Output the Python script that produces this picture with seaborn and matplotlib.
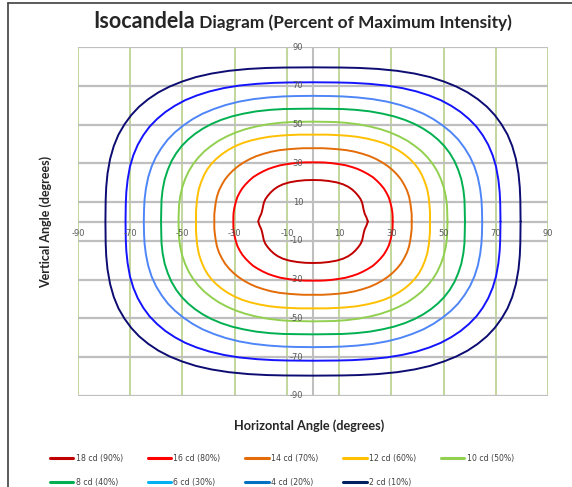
import numpy as np
import pandas as pd
import matplotlib
matplotlib.use("Agg")
import matplotlib.pyplot as plt
import seaborn as sns
from matplotlib.lines import Line2D

# ---------------- data ----------------
labels = ["18 cd (90%)", "16 cd (80%)", "14 cd (70%)", "12 cd (60%)", "10 cd (50%)",
          "8 cd (40%)", "6 cd (30%)", "4 cd (20%)", "2 cd (10%)"]
line_colors = ["#C00000", "#FF0000", "#E36C09", "#FFC000", "#92D050",
               "#00B050", "#4F86F7", "#1414FF", "#0C0C72"]
legend_colors = ["#C00000", "#FF0000", "#E36C09", "#FFC000", "#92D050",
                 "#00B050", "#00B0F0", "#0070C0", "#002060"]

# first-quadrant points (degrees), from the horizontal axis up to the vertical axis
q18_x = [21.0, 20.5, 19.8, 19.4, 19.1, 18.8, 18.2, 17.3, 16.2, 15.0, 13.5, 11.5, 9.0, 6.0, 3.0, 0.0]
q18_y = [0.0, 2.0, 4.0, 6.0, 8.0, 9.8, 11.6, 13.3, 15.0, 16.5, 17.9, 19.2, 20.2, 20.9, 21.3, 21.4]

q16_x = [30.5, 30.5, 30.4, 30.1, 29.6, 29.0, 28.1, 27.1, 25.8, 24.4, 22.9,
         21.1, 19.2, 17.1, 14.9, 12.5, 9.9, 7.1, 4.6, 2.6, 0.0]
q16_y = [0.0, 2.6, 4.6, 7.1, 9.9, 12.5, 14.9, 17.1, 19.2, 21.1, 22.9,
         24.4, 25.8, 27.1, 28.1, 29.0, 29.6, 30.1, 30.4, 30.5, 30.5]

q14_x = [37.8, 37.8, 37.6, 37.3, 36.8, 36.0, 34.9, 33.7, 32.2, 30.5, 28.6,
         26.5, 24.2, 21.7, 19.0, 16.0, 12.8, 9.3, 6.2, 3.6, 0.0]
q14_y = [0.0, 3.6, 6.2, 9.3, 12.8, 16.0, 19.0, 21.7, 24.2, 26.5, 28.6,
         30.5, 32.2, 33.7, 34.9, 36.0, 36.8, 37.3, 37.6, 37.8, 37.8]

q12_x = [44.8, 44.8, 44.6, 44.3, 43.7, 42.8, 41.7, 40.4, 38.8, 36.9, 34.8,
         32.5, 29.9, 27.1, 24.0, 20.5, 16.8, 12.5, 8.7, 5.2, 0.0]
q12_y = [0.0, 5.2, 8.7, 12.5, 16.8, 20.5, 24.0, 27.1, 29.9, 32.5, 34.8,
         36.9, 38.8, 40.4, 41.7, 42.8, 43.7, 44.3, 44.6, 44.8, 44.8]

q10_x = [51.5, 51.4, 51.3, 50.9, 50.1, 49.0, 47.6, 45.9, 43.9, 41.6, 39.0,
         36.2, 33.0, 29.6, 25.9, 21.8, 17.5, 12.7, 8.5, 4.9, 0.0]
q10_y = [0.0, 4.9, 8.5, 12.7, 17.5, 21.8, 25.9, 29.6, 33.0, 36.2, 39.0,
         41.6, 43.9, 45.9, 47.6, 49.0, 50.1, 50.9, 51.3, 51.4, 51.5]

q8_x = [58.2, 58.1, 58.0, 57.6, 56.8, 55.6, 54.2, 52.4, 50.3, 47.9, 45.2,
        42.2, 38.9, 35.2, 31.1, 26.7, 21.8, 16.3, 11.3, 6.8, 0.0]
q8_y = [0.0, 6.8, 11.3, 16.3, 21.8, 26.7, 31.1, 35.2, 38.9, 42.2, 45.2,
        47.9, 50.3, 52.4, 54.2, 55.6, 56.8, 57.6, 58.0, 58.1, 58.2]

q6_x = [64.8, 64.7, 64.5, 64.0, 63.1, 61.8, 60.1, 58.0, 55.6, 52.8, 49.6,
        46.1, 42.3, 38.0, 33.4, 28.4, 22.9, 16.9, 11.4, 6.7, 0.0]
q6_y = [0.0, 6.7, 11.4, 16.9, 22.9, 28.4, 33.4, 38.0, 42.3, 46.1, 49.6,
        52.8, 55.6, 58.0, 60.1, 61.8, 63.1, 64.0, 64.5, 64.7, 64.8]

q4_x = [71.8, 71.7, 71.5, 71.0, 70.1, 68.8, 67.1, 65.0, 62.6, 59.7, 56.5,
        52.9, 48.9, 44.5, 39.6, 34.2, 28.3, 21.5, 15.1, 9.4, 0.0]
q4_y = [0.0, 9.4, 15.1, 21.5, 28.3, 34.2, 39.6, 44.5, 48.9, 52.9, 56.5,
        59.7, 62.6, 65.0, 67.1, 68.8, 70.1, 71.0, 71.5, 71.7, 71.8]

q2_x = [79.5, 79.4, 79.2, 78.7, 77.7, 76.3, 74.5, 72.2, 69.6, 66.6, 63.1,
        59.2, 54.9, 50.1, 44.8, 38.9, 32.3, 24.7, 17.6, 11.1, 0.0]
q2_y = [0.0, 11.1, 17.6, 24.7, 32.3, 38.9, 44.8, 50.1, 54.9, 59.2, 63.1,
        66.6, 69.6, 72.2, 74.5, 76.3, 77.7, 78.7, 79.2, 79.4, 79.5]

quadrants = [(q18_x, q18_y), (q16_x, q16_y), (q14_x, q14_y), (q12_x, q12_y),
             (q10_x, q10_y), (q8_x, q8_y), (q6_x, q6_y), (q4_x, q4_y), (q2_x, q2_y)]

tick_values = [-90, -70, -50, -30, -10, 10, 30, 50, 70, 90]

title_big = "Isocandela"
title_small = " Diagram (Percent of Maximum Intensity)"
xlabel = "Horizontal Angle (degrees)"
ylabel = "Vertical Angle (degrees)"


def closed_loop(qx, qy):
    qx = np.asarray(qx, float)
    qy = np.asarray(qy, float)
    x = np.concatenate([qx, -qx[::-1], -qx, qx[::-1]])
    y = np.concatenate([qy, qy[::-1], -qy, -qy[::-1]])
    return x, y


# ---------------- figure ----------------
sns.set_style("white")
plt.rcParams["font.family"] = ["DejaVu Sans"]

W, H = 572, 487
fig = plt.figure(figsize=(W / 100, H / 100), dpi=100)
ax = fig.add_axes([78 / W, 1 - 396 / H, 470 / W, 349 / H])
ax.set_xlim(-90, 90)
ax.set_ylim(-90, 90)
for s in ax.spines.values():
    s.set_visible(False)
ax.set_xticks([])
ax.set_yticks([])
ax.set_facecolor("white")

grid_green = "#B9D08C"
grid_gray = "#BFBFBF"
for v in tick_values:
    ax.axvline(v, color=grid_green, lw=1.2, zorder=1)
for v in tick_values + [0]:
    ax.axhline(v, color=grid_gray, lw=1.6, zorder=1.5)
ax.axvline(0, color=grid_gray, lw=1.5, zorder=1.5)

for (qx, qy), col in zip(quadrants, line_colors):
    x, y = closed_loop(qx, qy)
    df = pd.DataFrame({"x": x, "y": y})
    sns.lineplot(data=df, x="x", y="y", sort=False, estimator=None,
                 color=col, lw=1.4, ax=ax, zorder=3)
ax.set_xlabel("")
ax.set_ylabel("")

tick_color = "#595959"
for v in tick_values:
    ax.annotate(str(v), (v, 0), xytext=(0, -8.5), textcoords="offset points",
                ha="center", va="center", fontsize=6, color=tick_color, zorder=4)
    ax.annotate(str(v), (0, v), xytext=(-7, 0), textcoords="offset points",
                ha="right", va="center", fontsize=6, color=tick_color, zorder=4)

# titles
title_font = ["Lato", "DejaVu Sans"]
t1 = fig.text(93 / W, 1 - 28 / H, title_big, ha="left", va="baseline",
              fontsize=15.5, fontweight="bold", family=title_font, color="#262626")
fig.canvas.draw()
r = fig.canvas.get_renderer()
bb = t1.get_window_extent(renderer=r)
fig.text(bb.x1 / W, 1 - 28 / H, title_small, ha="left", va="baseline",
         fontsize=12.4, fontweight="bold", family=title_font, color="#262626")

fig.text(309 / W, 1 - 426 / H, xlabel, ha="center", va="center",
         fontsize=9.2, fontweight="bold", family=title_font, color="#262626")
fig.text(46 / W, 1 - 222 / H, ylabel, ha="center", va="center", rotation=90,
         fontsize=9.0, fontweight="bold", family=title_font, color="#262626")

# legend (row-major order as in the reference)
handles = [Line2D([], [], color=c, lw=2.2) for c in legend_colors]
order = [0, 5, 1, 6, 2, 7, 3, 8, 4]
fig.legend([handles[i] for i in order], [labels[i] for i in order],
           loc="upper left", bbox_to_anchor=(50 / W, 1 - 454 / H), ncol=5,
           frameon=False, fontsize=5.6, handlelength=3.0, handletextpad=0.3,
           columnspacing=3.2, labelspacing=1.9, borderpad=0, borderaxespad=0,
           labelcolor="#404040")

# chart border (left and top)
fig.add_artist(Line2D([8 / W, 8 / W], [0, 1 - 3 / H], transform=fig.transFigure,
                      color="#404040", lw=1.2))
fig.add_artist(Line2D([8 / W, 1], [1 - 3 / H, 1 - 3 / H], transform=fig.transFigure,
                      color="#404040", lw=1.2))

fig.savefig("out.png", dpi=100)
